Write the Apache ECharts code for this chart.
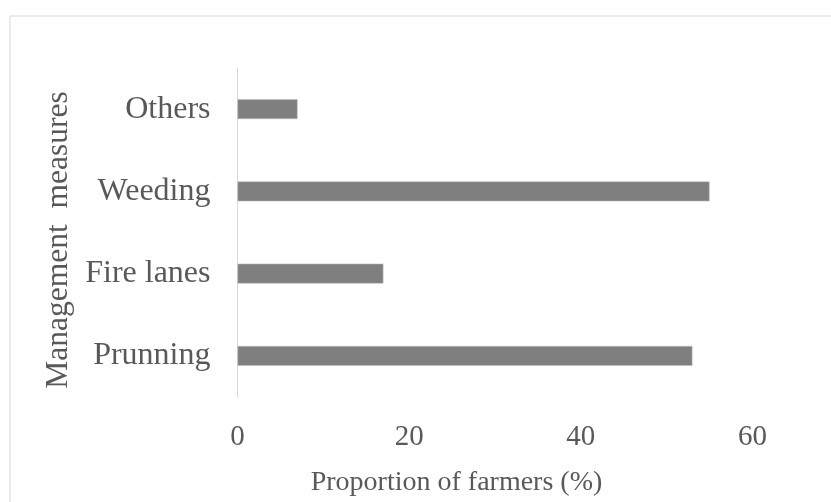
<!DOCTYPE html>
<html>
<head>
<meta charset="utf-8">
<script src="https://cdn.jsdelivr.net/npm/echarts@6/dist/echarts.min.js"></script>
<style>
html,body{margin:0;padding:0;background:#fff;}
#chart{width:831px;height:502px;}
</style>
</head>
<body>
<div id="chart"></div>
<script>
const categories = ["Prunning", "Fire lanes", "Weeding", "Others"];
const proportions = [53, 17, 55, 7];
const xTicks = [0, 20, 40, 60];
const xTitle = "Proportion of farmers (%)";
const yTitle = "Management  measures";

const chart = echarts.init(document.getElementById('chart'), null, {renderer: 'canvas'});
const font = '"Liberation Serif", "Times New Roman", serif';
const textColor = '#595959';

chart.setOption({
  animation: false,
  backgroundColor: '#ffffff',
  graphic: [{
    type: 'rect',
    left: 7.5, top: 13.5,
    shape: {width: 900, height: 600},
    style: {fill: 'none', stroke: '#d9d9d9', lineWidth: 1},
    silent: true
  }],
  grid: {left: 237.5, right: 78.5, top: 68, bottom: 105, containLabel: false},
  xAxis: {
    type: 'value',
    min: xTicks[0],
    max: xTicks[xTicks.length - 1],
    interval: xTicks[1] - xTicks[0],
    splitLine: {show: false},
    axisLine: {show: false},
    axisTick: {show: false},
    axisLabel: {color: textColor, fontFamily: font, fontSize: 29, margin: 26},
    name: xTitle,
    nameLocation: 'middle',
    nameGap: 72,
    nameTextStyle: {color: textColor, fontFamily: font, fontSize: 28, padding: [0, 77, 0, 0]}
  },
  yAxis: {
    type: 'category',
    data: categories,
    axisLine: {show: true, lineStyle: {color: '#d9d9d9', width: 1}},
    axisTick: {show: false},
    axisLabel: {color: textColor, fontFamily: font, fontSize: 32, margin: 27},
    name: yTitle,
    nameLocation: 'middle',
    nameGap: 160,
    nameRotate: 90,
    nameTextStyle: {color: textColor, fontFamily: font, fontSize: 31.5, padding: [0, 15, 0, 0]}
  },
  series: [{
    type: 'bar',
    data: proportions,
    barWidth: 20,
    itemStyle: {color: '#7f7f7f', borderColor: '#bfbfbf', borderWidth: 0.6},
    silent: true
  }]
});
</script>
</body>
</html>
